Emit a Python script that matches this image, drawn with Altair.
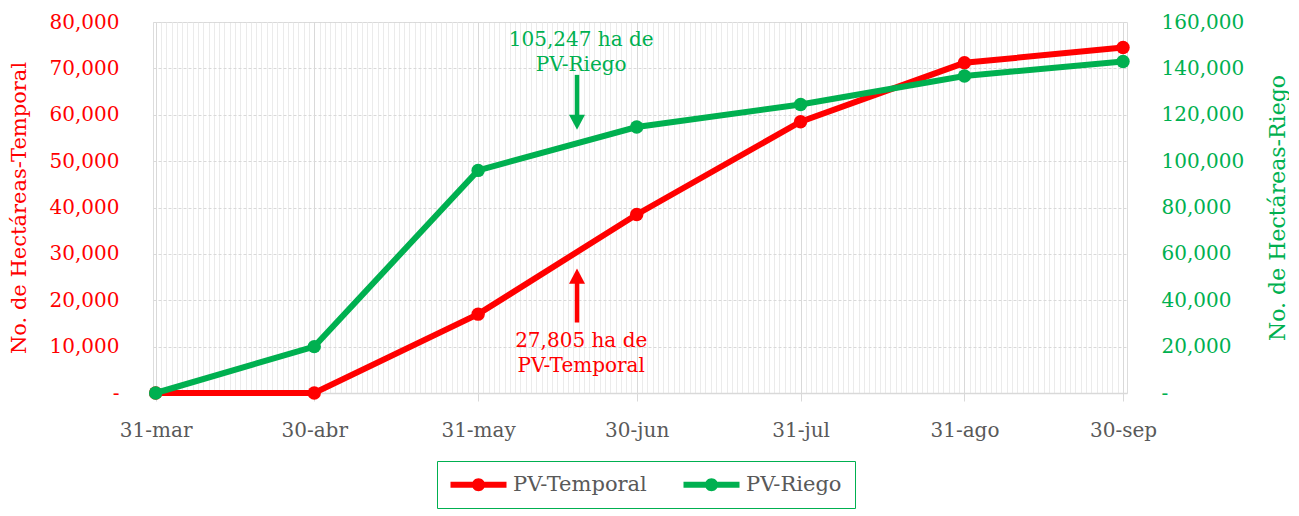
import altair as alt
import pandas as pd

# ---------------- data ----------------
DATES = ["2023-03-31", "2023-04-30", "2023-05-31", "2023-06-30",
         "2023-07-31", "2023-08-31", "2023-09-30"]
TICK_LABELS = ["31-mar", "30-abr", "31-may", "30-jun", "31-jul", "31-ago", "30-sep"]
SERIES = ["PV-Temporal", "PV-Riego"]
COLORS = ["#ff0000", "#00b050"]
TEMPORAL = [0, 0, 17000, 38500, 58500, 71200, 74500]
RIEGO = [0, 20000, 96000, 114700, 124400, 136700, 143000]
LEFT_TICKS = [0, 10000, 20000, 30000, 40000, 50000, 60000, 70000, 80000]
RIGHT_TICKS = [0, 20000, 40000, 60000, 80000, 100000, 120000, 140000, 160000]
LEFT_TITLE = "No. de Hectáreas-Temporal"
RIGHT_TITLE = "No. de Hectáreas-Riego"

# annotations (anchored in data units of the left axis)
ANN_RIEGO_TEXT = ["105,247 ha de", "PV-Riego"]
ANN_RIEGO_Y = [76100, 70700]
ANN_TEMP_TEXT = ["27,805 ha de", "PV-Temporal"]
ANN_TEMP_Y = [11200, 5800]
ANN_X = "2023-06-19T12:00:00Z"
ARROW_X = "2023-06-18T17:00:00Z"
ARROW_RIEGO = [68600, 59700, 58400]   # shaft top, shaft bottom, head centre
ARROW_TEMP = [15200, 23900, 25200]    # shaft bottom, shaft top, head centre

# ---------------- helpers ----------------
FONT = "DejaVu Serif"
GRID = "#d9d9d9"
GRAY = "#595959"


def ms(s):
    return int(pd.Timestamp(s, tz="UTC").value // 10**6)


daily = [ms(d) for d in pd.date_range(DATES[0], DATES[-1], freq="D")]
monthly = [ms(d) for d in DATES]
label_map = "{" + ",".join(f"'{d}':'{l}'" for d, l in zip(DATES, TICK_LABELS)) + "}"
x_label_expr = f"{label_map}[utcFormat(datum.value, '%Y-%m-%d')]"

df = pd.DataFrame({
    "fecha": DATES * 2,
    "serie": [SERIES[0]] * len(DATES) + [SERIES[1]] * len(DATES),
    "valor": TEMPORAL + RIEGO,
})

xscale = alt.Scale(type="utc", nice=False,
                   domain=[ms("2023-03-30T12:00"), ms("2023-09-30T18:00")])

x_minor_axis = alt.Axis(orient="bottom", values=daily, grid=True, gridColor="#ebebeb",
                        gridWidth=1, labels=False, ticks=False, domain=False, title=None)
x_axis = alt.Axis(orient="bottom", values=monthly, labelExpr=x_label_expr, grid=True,
                  gridColor=GRID, ticks=True, tickSize=8, tickColor=GRID, domain=True,
                  domainColor=GRID, domainWidth=1.5, labelColor=GRAY, labelFont=FONT,
                  labelFontSize=20, labelPadding=19, title=None)

# legend symbol: a thick bar with a dot in the middle (all filled);
# drawn in units of a 20px symbol, spanning 56px wide
SYMBOL = ("M-2.8,-0.3H2.8V0.3H-2.8Z"
          "M-0.65,0A0.65,0.65,0,1,1,0.65,0A0.65,0.65,0,1,1,-0.65,0Z")
legend = alt.Legend(
    title=None, orient="none", legendX=284, legendY=439, direction="horizontal",
    symbolType=SYMBOL, symbolSize=400, symbolStrokeWidth=0, symbolOffset=18,
    labelFont=FONT, labelFontSize=21, labelColor=GRAY, labelOffset=24,
    columnPadding=36, padding=13, strokeColor="#00b050",
)
series_scale = alt.Scale(domain=SERIES, range=COLORS)
color_enc = alt.Color("serie:N", scale=series_scale, legend=legend)

left_scale = alt.Scale(domain=[0, 80000], nice=False)
right_scale = alt.Scale(domain=[0, 160000], nice=False)

left_axis = alt.Axis(
    values=LEFT_TICKS,
    labelExpr="datum.value == 0 ? '-\u00a0\u2009' : format(datum.value, ',')",
    labelColor=COLORS[0], labelFont=FONT, labelFontSize=20, labelPadding=34,
    ticks=False, tickSize=0, domain=False, grid=True, gridColor=GRID, gridDash=[3, 2],
    title=LEFT_TITLE, titleColor=COLORS[0], titleFont=FONT, titleFontSize=21,
    titleFontWeight="normal", titlePadding=20)
right_axis = alt.Axis(
    orient="right", values=RIGHT_TICKS,
    labelExpr="datum.value == 0 ? '-' : format(datum.value, ',')",
    labelColor=COLORS[1], labelFont=FONT, labelFontSize=20, labelPadding=34,
    ticks=False, tickSize=0, domain=False, grid=False,
    title=RIGHT_TITLE, titleColor=COLORS[1], titleFont=FONT, titleFontSize=22,
    titleFontWeight="normal", titlePadding=46, titleAngle=270)

# minor daily gridlines layer (invisible marks, axis only)
grid_layer = alt.Chart(df).mark_point(opacity=0).encode(
    x=alt.X("fecha:T", scale=xscale, axis=x_minor_axis))

base = alt.Chart(df)
red = base.transform_filter(alt.datum.serie == SERIES[0])
green = base.transform_filter(alt.datum.serie == SERIES[1])

red_line = red.mark_line(strokeWidth=6, color=COLORS[0]).encode(
    x=alt.X("fecha:T", scale=xscale, axis=x_axis),
    y=alt.Y("valor:Q", scale=left_scale, axis=left_axis))
red_pts = red.mark_point(filled=True, size=180, opacity=1).encode(
    x=alt.X("fecha:T", scale=xscale),
    y=alt.Y("valor:Q", scale=left_scale),
    color=color_enc)

ann_g = pd.DataFrame({"fecha": [ANN_X] * 2, "valor": ANN_RIEGO_Y, "texto": ANN_RIEGO_TEXT})
ann_r = pd.DataFrame({"fecha": [ANN_X] * 2, "valor": ANN_TEMP_Y, "texto": ANN_TEMP_TEXT})
txt_g = alt.Chart(ann_g).mark_text(font=FONT, fontSize=20, color=COLORS[1], align="center",
                                   baseline="middle").encode(
    x=alt.X("fecha:T", scale=xscale), y=alt.Y("valor:Q", scale=left_scale), text="texto:N")
txt_r = alt.Chart(ann_r).mark_text(font=FONT, fontSize=20, color=COLORS[0], align="center",
                                   baseline="middle").encode(
    x=alt.X("fecha:T", scale=xscale), y=alt.Y("valor:Q", scale=left_scale), text="texto:N")

arr = pd.DataFrame({
    "fecha": [ARROW_X, ARROW_X],
    "y1": [ARROW_RIEGO[0], ARROW_TEMP[0]],
    "y2": [ARROW_RIEGO[1], ARROW_TEMP[1]],
    "head": [ARROW_RIEGO[2], ARROW_TEMP[2]],
    "serie": SERIES[::-1],
})
shaft_g = alt.Chart(arr).transform_filter(alt.datum.serie == SERIES[1]).mark_rule(
    strokeWidth=4.5, color=COLORS[1]).encode(
    x=alt.X("fecha:T", scale=xscale), y=alt.Y("y1:Q", scale=left_scale), y2="y2:Q")
shaft_r = alt.Chart(arr).transform_filter(alt.datum.serie == SERIES[0]).mark_rule(
    strokeWidth=4.5, color=COLORS[0]).encode(
    x=alt.X("fecha:T", scale=xscale), y=alt.Y("y1:Q", scale=left_scale), y2="y2:Q")
head_g = alt.Chart(arr).transform_filter(alt.datum.serie == SERIES[1]).mark_point(
    shape="M-1,-0.94L1,-0.94L0,0.94Z", filled=True, opacity=1, size=256,
    color=COLORS[1]).encode(
    x=alt.X("fecha:T", scale=xscale), y=alt.Y("head:Q", scale=left_scale))
head_r = alt.Chart(arr).transform_filter(alt.datum.serie == SERIES[0]).mark_point(
    shape="M-1,0.94L1,0.94L0,-0.94Z", filled=True, opacity=1, size=256,
    color=COLORS[0]).encode(
    x=alt.X("fecha:T", scale=xscale), y=alt.Y("head:Q", scale=left_scale))

left = alt.layer(red_line, red_pts, txt_g, txt_r, shaft_g, shaft_r, head_g, head_r)

green_line = green.mark_line(strokeWidth=6, color=COLORS[1]).encode(
    x=alt.X("fecha:T", scale=xscale, axis=None),
    y=alt.Y("valor:Q", scale=right_scale, axis=right_axis))
green_pts = green.mark_point(filled=True, size=180, opacity=1).encode(
    x=alt.X("fecha:T", scale=xscale, axis=None),
    y=alt.Y("valor:Q", scale=right_scale),
    color=color_enc)
right = alt.layer(green_line, green_pts)

chart = alt.layer(grid_layer, left, right).resolve_scale(
    y="independent").resolve_axis(x="independent").properties(
    width=974, height=371,
    padding={"left": 0, "top": 4, "right": 0, "bottom": 0},
).configure_view(stroke=GRID).configure(font=FONT)

chart.save("out.html", embed_options={"renderer": "svg", "actions": False})
